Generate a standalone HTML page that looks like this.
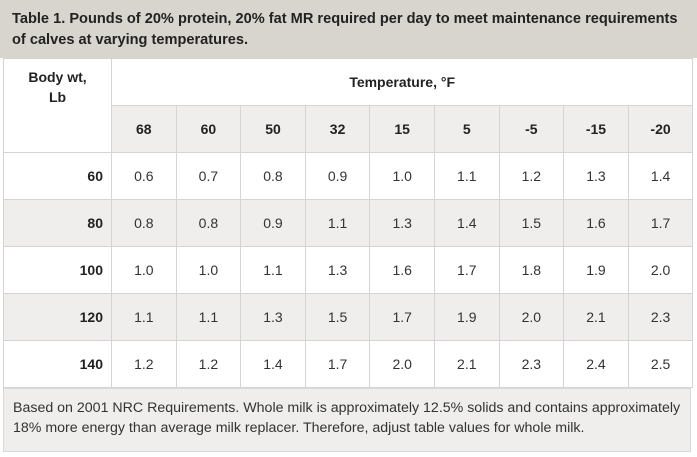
<!DOCTYPE html>
<html><head><style>
body{margin:0;width:697px;height:457px;background:#fff;font-family:"Liberation Sans",Arial,sans-serif;position:relative;overflow:hidden}
.title{position:absolute;left:0;top:0;width:697px;height:58px;background:#d8d5cf;}
.title div{position:absolute;left:12px;top:9px;font-weight:bold;font-size:14.6px;line-height:21px;color:#222;white-space:nowrap}
table{position:absolute;left:3px;top:58px;border-collapse:collapse;font-size:14px;color:#333}
td{border:1px solid #d4d4d4;text-align:center;padding:0;height:46px;width:63.6px}
td.l{width:106px;text-align:right;padding-right:8px;box-sizing:border-box;font-weight:bold;color:#222}
.h td{font-weight:bold;color:#222}
.g td{background:#efeeec}
.foot{position:absolute;left:3px;top:388px;width:688px;height:64px;background:#efeeec;border:1px solid #d8d8d8;box-sizing:border-box}
.foot div{position:absolute;left:9px;top:9px;font-size:14.2px;line-height:20px;color:#333;white-space:nowrap}
</style></head><body>
<div class="title"><div>Table 1. Pounds of 20% protein, 20% fat MR required per day to meet maintenance requirements<br>of calves at varying temperatures.</div></div>
<table>
<tr class="h"><td rowspan="2" style="width:107px;text-align:center;vertical-align:top;padding-top:8px;line-height:20px;height:auto">Body wt,<br>Lb</td><td colspan="9">Temperature, °F</td></tr>
<tr class="h g"><td>68</td><td>60</td><td>50</td><td>32</td><td>15</td><td>5</td><td>-5</td><td>-15</td><td>-20</td></tr>
<tr><td class="l">60</td><td>0.6</td><td>0.7</td><td>0.8</td><td>0.9</td><td>1.0</td><td>1.1</td><td>1.2</td><td>1.3</td><td>1.4</td></tr>
<tr class="g"><td class="l">80</td><td>0.8</td><td>0.8</td><td>0.9</td><td>1.1</td><td>1.3</td><td>1.4</td><td>1.5</td><td>1.6</td><td>1.7</td></tr>
<tr><td class="l">100</td><td>1.0</td><td>1.0</td><td>1.1</td><td>1.3</td><td>1.6</td><td>1.7</td><td>1.8</td><td>1.9</td><td>2.0</td></tr>
<tr class="g"><td class="l">120</td><td>1.1</td><td>1.1</td><td>1.3</td><td>1.5</td><td>1.7</td><td>1.9</td><td>2.0</td><td>2.1</td><td>2.3</td></tr>
<tr><td class="l">140</td><td>1.2</td><td>1.2</td><td>1.4</td><td>1.7</td><td>2.0</td><td>2.1</td><td>2.3</td><td>2.4</td><td>2.5</td></tr>
</table>
<div class="foot"><div>Based on 2001 NRC Requirements. Whole milk is approximately 12.5% solids and contains approximately<br>18% more energy than average milk replacer. Therefore, adjust table values for whole milk.</div></div>
</body></html>
